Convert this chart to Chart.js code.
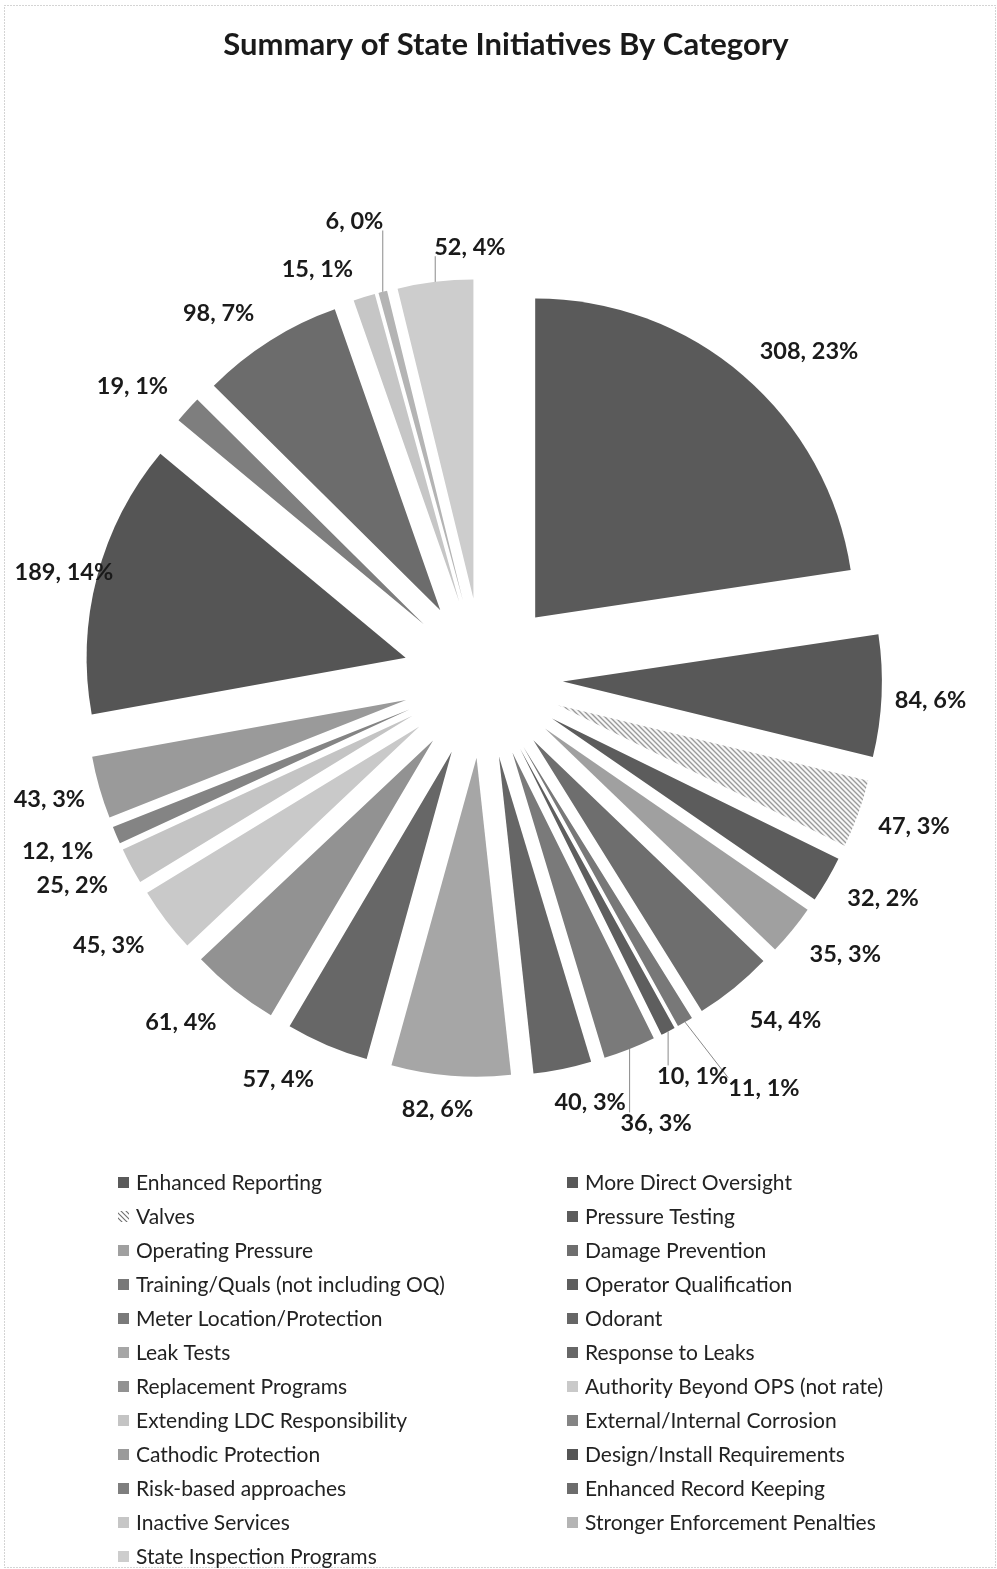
<!DOCTYPE html>
<html>
<head>
<meta charset="utf-8">
<script src="https://cdn.jsdelivr.net/npm/chart.js@4.4.0/dist/chart.umd.min.js"></script>
<style>
    html, body { margin: 0; padding: 0; background: #fff; }
    canvas { display: block; }
</style>
</head>
<body>
<canvas id="stateChart" width="997" height="1569"></canvas>
<script>
'use strict'

// Data
var categories = [
    'Enhanced Reporting', 'More Direct Oversight', 'Valves', 'Pressure Testing',
    'Operating Pressure', 'Damage Prevention', 'Training/Quals (not including OQ)',
    'Operator Qualification', 'Meter Location/Protection', 'Odorant', 'Leak Tests',
    'Response to Leaks', 'Replacement Programs', 'Authority Beyond OPS (not rate)',
    'Extending LDC Responsibility', 'External/Internal Corrosion', 'Cathodic Protection',
    'Design/Install Requirements', 'Risk-based approaches', 'Enhanced Record Keeping',
    'Inactive Services', 'Stronger Enforcement Penalties', 'State Inspection Programs'
];
var counts = [308, 84, 47, 32, 35, 54, 11, 10, 36, 40, 82, 57, 61, 45, 25, 12, 43, 189, 19, 98, 15, 6, 52];

// Grey shades for each slice ('hatch' = diagonal line pattern)
var shades = [
    '#5a5a5a', '#585858', 'hatch', '#5c5c5c', '#a0a0a0', '#6e6e6e', '#787878',
    '#5e5e5e', '#7a7a7a', '#666666', '#a6a6a6', '#676767', '#929292', '#c9c9c9',
    '#c4c4c4', '#848484', '#9a9a9a', '#555555', '#7e7e7e', '#6c6c6c',
    '#c6c6c6', '#b4b4b4', '#cdcdcd'
];

// label nudges (px) relative to the default radial spot, and slices with leader lines
var labelNudge = [
    [31, 15], [-4, 1], [6, -6], [10, -9], [12, -10], [18, -10], [52, 20], [0, -3],
    [7, 24], [17, -19], [-9, -20], [-28, -16], [-20, -10], [-15, -8], [-12, -7],
    [-10, -6], [1, -4], [18, 8], [-16, 11], [-23, 17], [-31, 22], [-15, -20], [41, 17]
];
var leaderFor = [6, 7, 8, 21, 22];

var pieRadius = 319;
var explode = 80;   // distance each slice is pulled out from the centre

function hatchPattern() {
    var c = document.createElement('canvas');
    c.width = 5; c.height = 5;
    var g = c.getContext('2d');
    g.fillStyle = '#fff';
    g.fillRect(0, 0, 5, 5);
    g.strokeStyle = '#707070';
    g.lineWidth = 1.1;
    g.beginPath();
    g.moveTo(-1, -1); g.lineTo(6, 6);
    g.moveTo(4, -1); g.lineTo(6, 1);
    g.moveTo(-1, 4); g.lineTo(1, 6);
    g.stroke();
    return document.getElementById('stateChart').getContext('2d').createPattern(c, 'repeat');
}

var fills = shades.map(function (s) { return s === 'hatch' ? hatchPattern() : s; });
var total = counts.reduce(function (a, b) { return a + b; }, 0);

// Draw each arc pulled out along its bisector (same distance for all slices)
var explodedPie = {
    id: 'explodedPie',
    beforeDatasetDraw: function (chart, args) {
        var ctx = chart.ctx;
        args.meta.data.forEach(function (arc) {
            var mid = (arc.startAngle + arc.endAngle) / 2;
            ctx.save();
            ctx.translate(Math.cos(mid) * explode, Math.sin(mid) * explode);
            arc.draw(ctx);
            ctx.restore();
        });
        return false;
    }
};

var sliceLabels = {
    id: 'sliceLabels',
    afterDatasetsDraw: function (chart) {
        var ctx = chart.ctx;
        var meta = chart.getDatasetMeta(0);
        ctx.save();
        ctx.font = 'bold 23.5px Lato';
        ctx.textAlign = 'center';
        ctx.textBaseline = 'middle';
        meta.data.forEach(function (arc, i) {
            var p = arc.getProps(['x', 'y', 'startAngle', 'endAngle', 'outerRadius'], true);
            var mid = (p.startAngle + p.endAngle) / 2;
            var cos = Math.cos(mid), sin = Math.sin(mid);
            var d = p.outerRadius + explode + 53;
            var lx = p.x + cos * d + labelNudge[i][0];
            var ly = p.y + sin * d + labelNudge[i][1];
            var text = counts[i] + ', ' + Math.round(counts[i] / total * 100) + '%';
            var w = ctx.measureText(text).width;
            if (leaderFor.indexOf(i) >= 0) {
                var ex = p.x + cos * (p.outerRadius + explode);
                var ey = p.y + sin * (p.outerRadius + explode);
                var bx = Math.max(lx - w / 2, Math.min(ex, lx + w / 2));
                var by = Math.max(ly - 10, Math.min(ey, ly + 10));
                ctx.strokeStyle = '#8a8a8a';
                ctx.lineWidth = 1;
                ctx.beginPath();
                ctx.moveTo(ex, ey);
                ctx.lineTo(bx, by);
                ctx.stroke();
            }
            ctx.fillStyle = '#1a1a1a';
            ctx.fillText(text, lx, ly + 1);
        });
        ctx.restore();
    }
};

var frameTitleLegend = {
    id: 'frameTitleLegend',
    afterDraw: function (chart) {
        var ctx = chart.ctx;
        ctx.save();
        // dotted frame
        ctx.strokeStyle = '#a8a8a8';
        ctx.lineWidth = 1;
        ctx.setLineDash([1, 2]);
        ctx.strokeRect(4.5, 5.5, 991, 1562);
        ctx.setLineDash([]);

        // title
        ctx.fillStyle = '#1a1a1a';
        ctx.font = 'bold 31px Lato';
        ctx.textAlign = 'center';
        ctx.textBaseline = 'middle';
        ctx.fillText('Summary of State Initiatives By Category', 506, 45);

        // two-column legend
        ctx.font = '21px Lato';
        ctx.textAlign = 'left';
        categories.forEach(function (name, i) {
            var col = i % 2, row = Math.floor(i / 2);
            var bx = col === 0 ? 118 : 567;
            var y = 1182 + row * 34;
            ctx.fillStyle = fills[i];
            ctx.fillRect(bx, y - 5, 11, 11);
            ctx.fillStyle = '#222';
            ctx.fillText(name, bx + 18, y + 1);
        });
        ctx.restore();
    }
};

new Chart(document.getElementById('stateChart'), {
    type: 'pie',
    data: {
        labels: categories,
        datasets: [{
            data: counts,
            backgroundColor: fills,
            borderWidth: 0,
            offset: 0,
            hoverOffset: 0
        }]
    },
    options: {
        responsive: false,
        animation: false,
        radius: pieRadius,
        layout: {
            padding: { left: 84, right: 115, top: 279, bottom: 492 }
        },
        plugins: {
            legend: { display: false },
            title: { display: false },
            tooltip: { enabled: false }
        }
    },
    plugins: [explodedPie, sliceLabels, frameTitleLegend]
});
</script>
</body>
</html>
